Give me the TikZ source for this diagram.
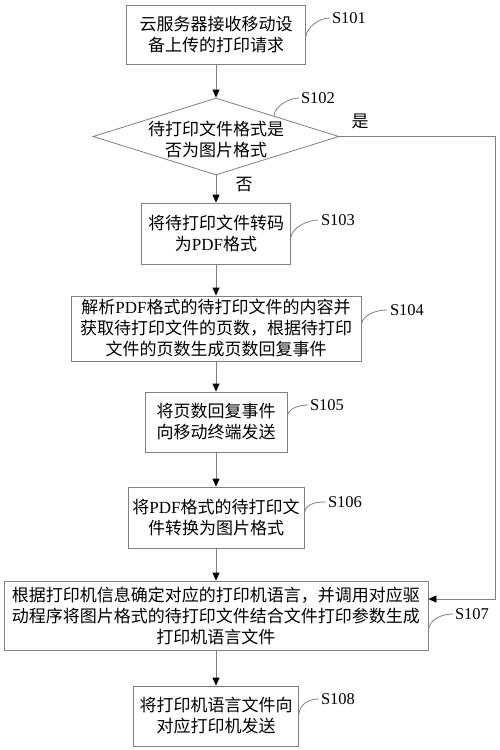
\documentclass[tikz,border=0pt]{standalone}
\usepackage{fontspec}
\setmainfont{Liberation Serif}
\newfontfamily\cjk{Noto Sans CJK SC}
\usetikzlibrary{arrows.meta,shapes.geometric,calc}
\newcommand\lat[1]{{\rmfamily #1}}
\newcommand\cjkfont{\cjk\fontsize{17pt}{21pt}\selectfont}
\definecolor{linegray}{RGB}{128,128,128}
\begin{document}
\begin{tikzpicture}[x=1pt,y=-1pt,
  box/.style={draw=linegray, line width=0.8pt, inner sep=0pt, align=center, font=\cjkfont},
  txt/.style={inner sep=0pt, align=center, font=\cjkfont},
  lab/.style={inner sep=0pt, font=\fontsize{16.5pt}{18pt}\selectfont},
  conn/.style={draw=linegray, line width=0.8pt},
  arr/.style={draw=linegray, line width=0.8pt, -{Triangle[length=8pt,width=7pt,color=black,fill=black]}}]
\fill[white] (0,0) rectangle (500,750);
\useasboundingbox (0,0) rectangle (500,750);

\node[box, minimum width=179pt, minimum height=59pt] (b1) at (216,34.5) {云服务器接收移动设\\备上传的打印请求};
\node[draw=linegray, line width=0.8pt, diamond, minimum width=246pt, minimum height=77pt, inner sep=0pt] (d) at (216,136.5) {};
\node[txt] (dt) at (216,139) {待打印文件格式是\\否为图片格式};
\node[box, minimum width=149pt, minimum height=61pt] (b3) at (216,233.5) {将待打印文件转码\\为\lat{PDF}格式};
\node[box, minimum width=290pt, minimum height=65pt] (b4) at (216,328.5) {解析\lat{PDF}格式的待打印文件的内容并\\获取待打印文件的页数，根据待打印\\文件的页数生成页数回复事件};
\node[box, minimum width=142pt, minimum height=60pt] (b5) at (216,422) {将页数回复事件\\向移动终端发送};
\node[box, minimum width=176pt, minimum height=61pt] (b6) at (216,517.5) {将\lat{PDF}格式的待打印文\\件转换为图片格式};
\node[box, minimum width=424pt, minimum height=69pt] (b7) at (216,615.5) {根据打印机信息确定对应的打印机语言，并调用对应驱\\动程序将图片格式的待打印文件结合文件打印参数生成\\打印机语言文件};
\node[box, minimum width=165pt, minimum height=60pt] (b8) at (216,716) {将打印机语言文件向\\对应打印机发送};

\node[txt] (yes) at (360,121) {是};
\node[txt] (no) at (244,185) {否};

\node[lab] (l1) at (349,18) {S101};
\node[lab] (l2) at (318,98) {S102};
\node[lab] (l3) at (338,220) {S103};
\node[lab] (l4) at (407,310) {S104};
\node[lab] (l5) at (327,405) {S105};
\node[lab] (l6) at (345,502) {S106};
\node[lab] (l7) at (472,614) {S107};
\node[lab] (l8) at (338,699) {S108};

\draw[arr] (b1.south) -- (d.north);
\draw[arr] (d.south) -- (b3.north);
\draw[arr] (b3.south) -- (b4.north);
\draw[arr] (b4.south) -- (b5.north);
\draw[arr] (b5.south) -- (b6.north);
\draw[arr] (b6.south) -- (b7.north);
\draw[arr] (b7.south) -- (b8.north);

\coordinate (c1) at (495,136.5);
\coordinate (c2) at (495,599);
\draw[arr] (d.east) -- (c1) -- (c2) -- (c2 -| b7.east);

\draw[conn] ([yshift=-2pt]b1.east) .. controls +(1,-10) and +(-10,0) .. ([xshift=-2pt]l1.west);
\draw[conn] ($(d.north)!0.47!(d.east)$) .. controls +(1,-10) and +(-10,0) .. ([xshift=-2pt]l2.west);
\draw[conn] ([yshift=-4pt]b3.east) .. controls +(1,-10) and +(-10,0) .. ([xshift=-3pt]l3.west);
\draw[conn] ([yshift=4pt]b4.east) .. controls +(1,-10) and +(-10,0) .. ([xshift=-3pt]l4.west);
\draw[conn] ([yshift=6pt]b5.east) .. controls +(1,-8) and +(-8,0) .. ([xshift=-2pt]l5.west);
\draw[conn] ([yshift=4pt]b6.east) .. controls +(1,-10) and +(-10,0) .. ([xshift=-2pt]l6.west);
\draw[conn] ([yshift=-15pt]b7.east) .. controls +(1,-12) and +(-10,0) .. ([xshift=-2pt]l7.west);
\draw[conn] ([yshift=2pt]b8.east) .. controls +(1,-10) and +(-10,0) .. ([xshift=-2pt]l8.west);
\end{tikzpicture}
\end{document}
